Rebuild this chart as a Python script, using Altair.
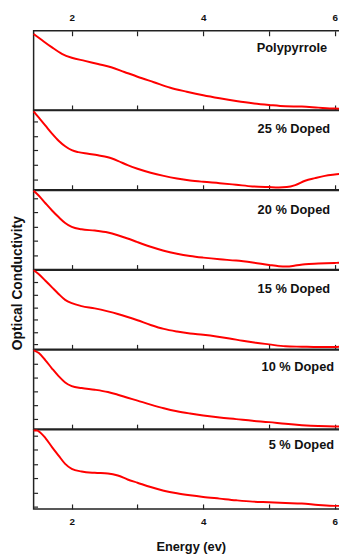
import altair as alt
import pandas as pd

FONT = "Liberation Sans"

# ---- data (optical conductivity, arbitrary units) ----
names = ["Polypyrrole", "25 % Doped", "20 % Doped", "15 % Doped", "10 % Doped", "5 % Doped"]

e_pp = [1.42, 1.55, 1.70, 1.85, 2.0, 2.2, 2.4, 2.6, 2.8, 3.0, 3.25, 3.5, 3.75, 4.0, 4.25, 4.5, 4.75, 5.0, 5.25, 5.5, 5.75, 6.0, 6.13]
s_pp = [0.96, 0.88, 0.79, 0.71, 0.66, 0.62, 0.58, 0.54, 0.48, 0.42, 0.35, 0.28, 0.23, 0.185, 0.147, 0.113, 0.084, 0.063, 0.046, 0.042, 0.029, 0.017, 0.013]

e_25 = [1.42, 1.5, 1.6, 1.7, 1.8, 1.9, 2.0, 2.1, 2.25, 2.4, 2.55, 2.7, 2.85, 3.0, 3.2, 3.4, 3.6, 3.8, 4.0, 4.25, 4.5, 4.75, 5.0, 5.15, 5.27, 5.4, 5.55, 5.7, 5.85, 6.0, 6.13]
s_25 = [0.99, 0.91, 0.81, 0.71, 0.62, 0.55, 0.50, 0.475, 0.455, 0.435, 0.41, 0.365, 0.31, 0.265, 0.215, 0.175, 0.142, 0.117, 0.10, 0.083, 0.063, 0.042, 0.033, 0.029, 0.033, 0.058, 0.113, 0.146, 0.175, 0.192, 0.204]

e_20 = [1.42, 1.5, 1.6, 1.7, 1.8, 1.9, 2.0, 2.15, 2.35, 2.55, 2.7, 2.85, 3.0, 3.2, 3.4, 3.6, 3.8, 4.0, 4.25, 4.5, 4.75, 5.0, 5.15, 5.27, 5.4, 5.55, 5.75, 6.0, 6.13]
s_20 = [0.996, 0.933, 0.838, 0.746, 0.663, 0.588, 0.538, 0.508, 0.492, 0.467, 0.433, 0.392, 0.346, 0.288, 0.238, 0.2, 0.171, 0.15, 0.129, 0.113, 0.088, 0.058, 0.042, 0.038, 0.05, 0.067, 0.075, 0.083, 0.0875]

e_15 = [1.42, 1.5, 1.6, 1.7, 1.8, 1.9, 2.0, 2.15, 2.35, 2.55, 2.7, 2.85, 3.0, 3.2, 3.4, 3.6, 3.8, 4.0, 4.2, 4.4, 4.6, 4.8, 5.0, 5.25, 5.5, 5.75, 6.0, 6.13]
s_15 = [1.0, 0.95, 0.867, 0.783, 0.70, 0.625, 0.583, 0.546, 0.517, 0.479, 0.446, 0.408, 0.367, 0.308, 0.258, 0.225, 0.2, 0.183, 0.1625, 0.1375, 0.108, 0.083, 0.0625, 0.0375, 0.033, 0.029, 0.029, 0.0375]

e_10 = [1.42, 1.5, 1.6, 1.7, 1.8, 1.9, 2.0, 2.15, 2.35, 2.55, 2.7, 2.85, 3.0, 3.2, 3.4, 3.6, 3.8, 4.0, 4.25, 4.5, 4.75, 5.0, 5.25, 5.5, 5.75, 6.0, 6.13]
s_10 = [0.996, 0.962, 0.870, 0.766, 0.669, 0.59, 0.544, 0.519, 0.498, 0.469, 0.435, 0.397, 0.36, 0.31, 0.264, 0.226, 0.197, 0.172, 0.146, 0.126, 0.105, 0.088, 0.067, 0.05, 0.038, 0.033, 0.033]

e_05 = [1.42, 1.47, 1.52, 1.6, 1.7, 1.8, 1.9, 2.0, 2.15, 2.35, 2.55, 2.7, 2.85, 3.0, 3.2, 3.4, 3.6, 3.8, 4.0, 4.25, 4.5, 4.75, 5.0, 5.25, 5.5, 5.75, 6.0, 6.13]
s_05 = [0.992, 0.992, 0.967, 0.895, 0.782, 0.674, 0.569, 0.506, 0.473, 0.456, 0.448, 0.423, 0.372, 0.331, 0.276, 0.23, 0.197, 0.172, 0.151, 0.13, 0.109, 0.092, 0.084, 0.075, 0.067, 0.05, 0.038, 0.038]

energies = [e_pp, e_25, e_20, e_15, e_10, e_05]
sigmas = [s_pp, s_25, s_20, s_15, s_10, s_05]

# y tick marks (unlabelled) of each panel
y_ticks = [
    [0.07, 0.22, 0.37, 0.52, 0.66, 0.81, 0.96],
    [0.13, 0.32, 0.50, 0.68, 0.86],
    [0.18, 0.36, 0.54, 0.72, 0.90],
    [0.07, 0.22, 0.38, 0.53, 0.69, 0.85],
    [0.13, 0.30, 0.48, 0.65, 0.83],
    [0.03, 0.20, 0.39, 0.56, 0.75, 0.93],
]
x_ticks = [2, 3, 4, 5, 6]

# ---- style ----
W = 319
H = 80.3
X_DOMAIN = [1.42, 6.2]
label_pos = [(298, 17), (301, 19), (301, 20), (301, 19), (305, 17), (305, 15)]
label_expr = "datum.value % 2 == 0 ? datum.label : ''"

panels = []
for i in range(6):
    df = pd.DataFrame({"Energy": energies[i], "Sigma": sigmas[i]})
    bottom = i == 5
    x_axis = alt.Axis(
        orient="bottom", values=x_ticks, labels=bottom, labelExpr=label_expr,
        title="Energy (ev)" if bottom else None,
        domain=False, grid=False, tickSize=5, offset=-5, tickColor="#222", tickWidth=1.2,
        labelPadding=8, labelFontSize=10, labelFontWeight="bold", labelFont=FONT, labelColor="#111",
        titleFont=FONT, titleFontSize=13, titleFontWeight="bold", titlePadding=14, titleColor="#111",
    )
    y_axis = alt.Axis(
        orient="left", values=y_ticks[i], labels=False, title=None, domain=False, grid=False,
        tickSize=4, offset=-4, tickColor="#222", tickWidth=1.2,
    )
    base = alt.Chart(df)
    line = base.mark_line(color="#ff0000", strokeWidth=2, interpolate="monotone").encode(
        x=alt.X("Energy:Q", scale=alt.Scale(domain=X_DOMAIN, nice=False, zero=False), axis=x_axis),
        y=alt.Y("Sigma:Q", scale=alt.Scale(domain=[0, 1], nice=False), axis=y_axis),
    )
    lx, ly = label_pos[i]
    label = alt.Chart(pd.DataFrame({"name": [names[i]]})).mark_text(
        align="right", baseline="middle", font=FONT, fontSize=13, fontWeight="bold", color="#111"
    ).encode(text="name:N", x=alt.value(lx), y=alt.value(ly))
    layers = [line, label]
    if i == 0:
        top_axis = alt.Axis(
            orient="top", values=x_ticks, labelExpr=label_expr, title=None,
            domain=False, grid=False, tickSize=5, offset=-5, tickColor="#222", tickWidth=1.2,
            labelPadding=8, labelFontSize=10, labelFontWeight="bold", labelFont=FONT, labelColor="#111",
        )
        ghost = base.mark_line(opacity=0).encode(
            x=alt.X("Energy:Q", scale=alt.Scale(domain=X_DOMAIN, nice=False, zero=False), axis=top_axis),
            y=alt.Y("Sigma:Q", scale=alt.Scale(domain=[0, 1], nice=False), axis=None),
        )
        layers.append(ghost)
    panel = alt.layer(*layers).properties(width=W, height=H)
    if i == 0:
        panel = panel.resolve_axis(x="independent")
    panels.append(panel)

chart = alt.vconcat(*panels, spacing=0, bounds="flush").properties(
    title=alt.TitleParams(
        text="Optical Conductivity", orient="left", anchor="middle",
        font=FONT, fontSize=14, fontWeight="bold", color="#111", offset=4,
    ),
    padding={"left": 3, "top": 0, "right": -10, "bottom": 0},
    background="white",
).configure_view(stroke="#222", strokeWidth=1.5)

chart.save("out.html", embed_options={"renderer": "svg", "actions": False})
